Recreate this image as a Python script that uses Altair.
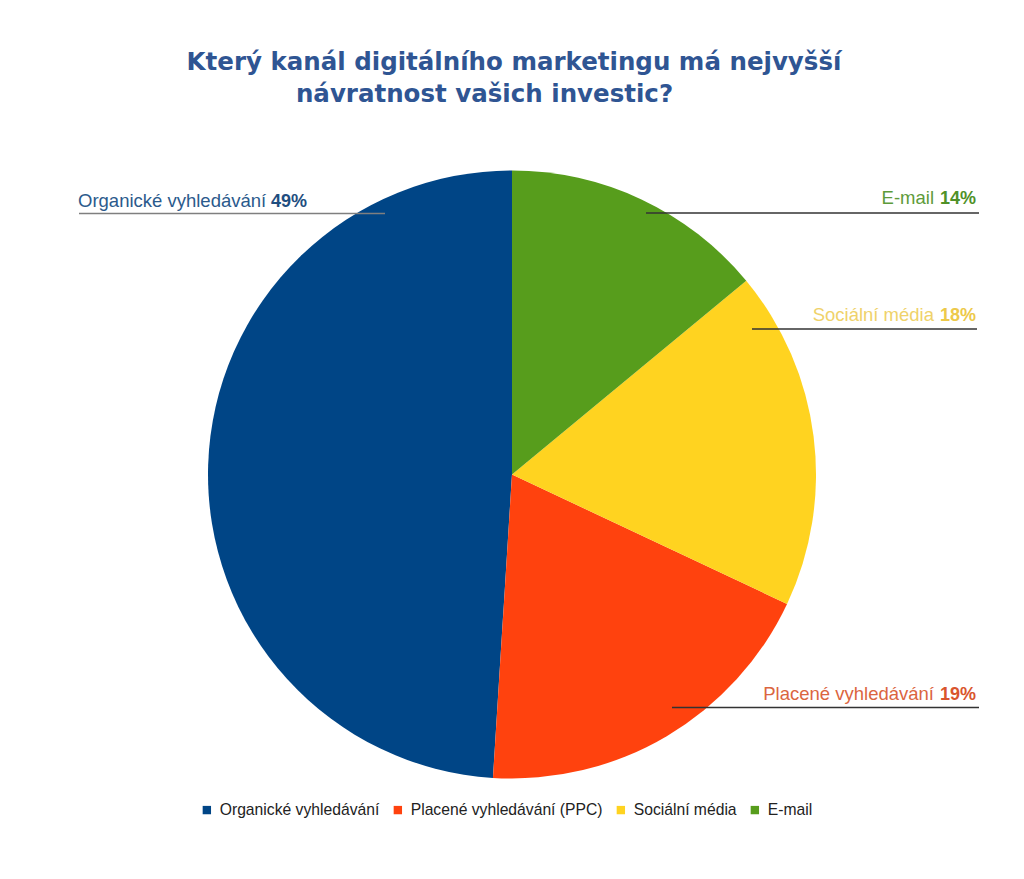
import altair as alt
import pandas as pd

# ---- data ----
categories = ["Organické vyhledávání", "Placené vyhledávání (PPC)", "Sociální média", "E-mail"]
values = [49, 19, 18, 14]
slice_order = [4, 3, 2, 1]          # clockwise from 12 o'clock: E-mail, Sociální, Placené, Organické
label_names = ["Organické vyhledávání", "Placené vyhledávání", "Sociální média", "E-mail"]
colors = ["#004586", "#FF420E", "#FFD320", "#579D1C"]

title_lines = ["Který kanál digitálního marketingu má nejvyšší", "návratnost vašich investic?"]

# ---- layout (pixels) ----
CX, CY, R = 512, 474.5, 304
label_text_color = ["#2B5A8C", "#DB6540", "#EFD26A", "#5E9B3A"]
label_pct_color = ["#1F4E80", "#D9552D", "#EDC94A", "#4F9128"]
line_color = ["#7F7F7F", "#333333", "#333333", "#333333"]
line_x1 = [79, 672, 752, 646]
line_x2 = [385, 979, 977, 979]
line_y = [213.5, 707.5, 329, 213]
text_x = [78, 934, 934, 934]
pct_x = [271, 976, 976, 976]
align = ["left", "right", "right", "right"]
text_y = [206.5, 700, 321, 204]

df = pd.DataFrame({"category": categories, "value": values, "order": slice_order})

ann = pd.DataFrame({
    "name": label_names,
    "pct": [f"{v}%" for v in values],
    "tc": label_text_color,
    "pc": label_pct_color,
    "lc": line_color,
    "x1": line_x1, "x2": line_x2, "ly": line_y,
    "tx": text_x, "px": pct_x, "ty": text_y, "al": align,
})

pie = alt.Chart(df).mark_arc(outerRadius=R).encode(
    x=alt.value(CX), y=alt.value(CY),
    theta=alt.Theta("value:Q", stack=True),
    order=alt.Order("order:Q"),
    color=alt.Color(
        "category:N",
        scale=alt.Scale(domain=categories, range=colors),
        sort=categories,
        legend=alt.Legend(
            title=None, orient="none", direction="horizontal",
            legendX=199, legendY=802,
            symbolType="square", symbolSize=70, symbolStrokeWidth=0,
            labelFont="Liberation Sans", labelFontSize=15.7, labelColor="#222222",
            labelLimit=0, labelOffset=5, columnPadding=10, padding=0,
        ),
    ),
)

lines = alt.Chart(ann).mark_rule(strokeWidth=1.6).encode(
    x=alt.X("x1:Q", scale=None, axis=None),
    x2="x2:Q",
    y=alt.Y("ly:Q", scale=None, axis=None),
    stroke=alt.Stroke("lc:N", scale=None),
)

layers = [pie, lines]
for i in range(len(label_names)):
    sub = ann.iloc[[i]]
    t1 = alt.Chart(sub).mark_text(
        font="Liberation Sans", fontSize=18.5, align=align[i], baseline="alphabetic"
    ).encode(
        x=alt.X("tx:Q", scale=None, axis=None),
        y=alt.Y("ty:Q", scale=None, axis=None),
        text="name:N",
        fill=alt.Fill("tc:N", scale=None),
    )
    t2 = alt.Chart(sub).mark_text(
        font="Liberation Sans", fontSize=18, fontWeight="bold",
        align="left" if align[i] == "left" else "right", baseline="alphabetic"
    ).encode(
        x=alt.X("px:Q", scale=None, axis=None),
        y=alt.Y("ty:Q", scale=None, axis=None),
        text="pct:N",
        fill=alt.Fill("pc:N", scale=None),
    )
    layers += [t1, t2]

title_df = pd.DataFrame({"t": title_lines, "x": [514, 484.5], "y": [69.5, 101.5]})
title = alt.Chart(title_df).mark_text(
    font="DejaVu Sans", fontSize=24.5, fontWeight="bold", color="#2F5593",
    align="center", baseline="alphabetic"
).encode(
    x=alt.X("x:Q", scale=None, axis=None),
    y=alt.Y("y:Q", scale=None, axis=None),
    text="t:N",
)
layers.append(title)

chart = alt.layer(*layers).properties(
    width=1024, height=879, padding=0, autosize="none", background="white"
).configure_view(stroke=None)

chart.save("out.html", embed_options={"renderer": "svg", "actions": False})
